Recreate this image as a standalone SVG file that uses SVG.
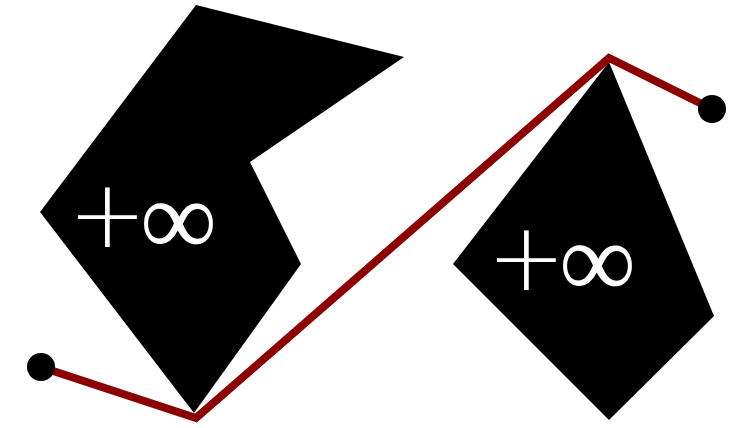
<svg xmlns="http://www.w3.org/2000/svg" width="752" height="428" viewBox="0 0 752 428">
<style>
.shape{fill:#000;stroke:none}
.lbl{fill:#fff;text-anchor:middle;dominant-baseline:central}
.pl{font-family:"DejaVu Sans",sans-serif;font-weight:200;font-size:94px}
.inf{font-family:"Liberation Serif",serif;font-size:108px}
.conn{fill:none;stroke:#8b0000;stroke-width:8;stroke-linejoin:miter;stroke-linecap:butt}
.end{fill:#000}
</style>
<g id="node1">
<polygon class="shape" points="196,5 404,57 250,162 301,264 194,413 40,212"/>
<text class="lbl"><tspan class="pl" x="107.5" y="214">+</tspan><tspan class="inf" x="178.5" y="218">∞</tspan></text>
</g>
<g id="node2">
<polygon class="shape" points="609,62 714,316 609,420 453,264"/>
<text class="lbl"><tspan class="pl" x="526.5" y="257">+</tspan><tspan class="inf" x="597.5" y="260">∞</tspan></text>
</g>
<g id="connectors">
<polyline class="conn" points="41,367 196,418 609,58 712,109"/>
<circle class="end" cx="41" cy="367" r="14"/>
<circle class="end" cx="712" cy="109" r="14"/>
</g>
</svg>
